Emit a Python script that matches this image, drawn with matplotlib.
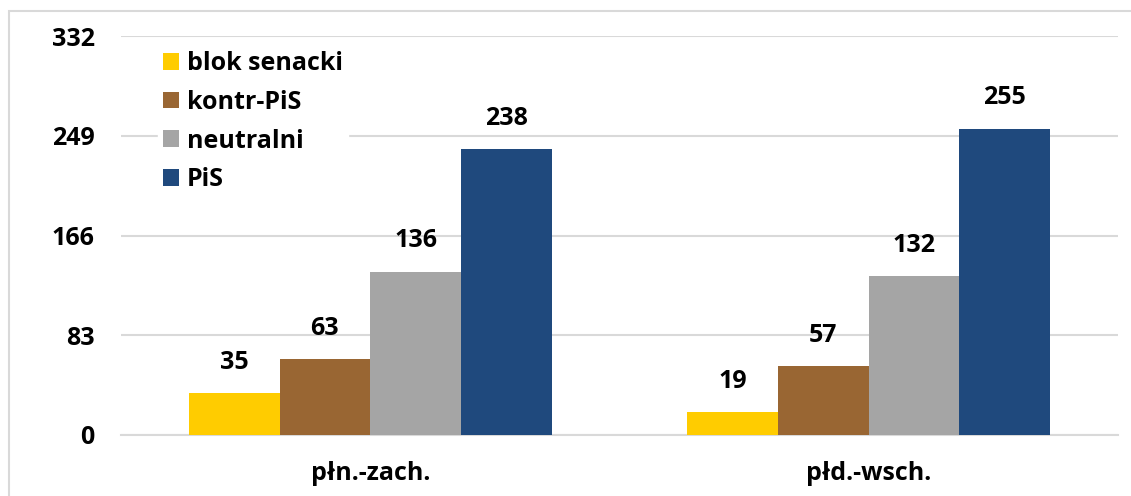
import matplotlib
matplotlib.use("Agg")
import matplotlib.pyplot as plt
import numpy as np
from matplotlib.patches import Rectangle

categories = ["płn.-zach.", "płd.-wsch."]
series = ["blok senacki", "kontr-PiS", "neutralni", "PiS"]
values = [
    [35, 19],
    [63, 57],
    [136, 132],
    [238, 255],
]
colors = ["#FFCC00", "#996633", "#A5A5A5", "#1F497D"]
yticks = [0, 83, 166, 249, 332]

plt.rcParams["font.family"] = ["Open Sans", "DejaVu Sans"]
plt.rcParams["font.weight"] = "bold"
FS = 18

fig = plt.figure(figsize=(11.31, 4.96), dpi=100)
fig.patches.append(Rectangle((9 / 1131, -0.1), 1.2, 1 - 11 / 496 + 0.1,
                             transform=fig.transFigure, fill=False,
                             edgecolor="#D9D9D9", linewidth=1.5, zorder=0))
ax = fig.add_axes([121 / 1131, 1 - 435 / 496, (1118 - 121) / 1131, (435 - 36) / 496])

x = np.arange(len(categories))
width = 0.182
for i, (name, vals, c) in enumerate(zip(series, values, colors)):
    pos = x + (i - 1.5) * width
    bars = ax.bar(pos, vals, width, color=c, label=name, zorder=3)
    for b, v in zip(bars, vals):
        ax.annotate(str(v), (b.get_x() + b.get_width() / 2, v),
                    xytext=(0, 13), textcoords="offset points",
                    ha="center", va="bottom", fontsize=FS, fontweight="bold")

ax.set_xlim(-0.5, 1.5)
ax.set_ylim(0, 332)
ax.set_yticks(yticks)
ax.set_yticklabels([str(t) for t in yticks], fontsize=FS, fontweight="bold")
ax.set_xticks(x)
ax.set_xticklabels(categories, fontsize=FS, fontweight="bold")
ax.tick_params(axis="y", length=0, pad=19)
ax.tick_params(axis="x", length=0, pad=19)
ax.grid(axis="y", color="#D9D9D9", linewidth=1.5, zorder=0)
for s in ["top", "right", "left"]:
    ax.spines[s].set_visible(False)
ax.spines["bottom"].set_color("#D9D9D9")
ax.spines["bottom"].set_linewidth(1.5)

leg = ax.legend(loc="upper left", bbox_to_anchor=(158 / 1131, 1 - 46 / 496),
                bbox_transform=fig.transFigure, frameon=True, fontsize=FS,
                handlelength=0.65, handleheight=0.65, handletextpad=0.3,
                labelspacing=0.55, borderaxespad=0, borderpad=0.2)
leg.get_frame().set_facecolor("white")
leg.get_frame().set_edgecolor("white")
leg.get_frame().set_alpha(1)
for t in leg.get_texts():
    t.set_fontweight("bold")

fig.savefig("out.png", dpi=100)
